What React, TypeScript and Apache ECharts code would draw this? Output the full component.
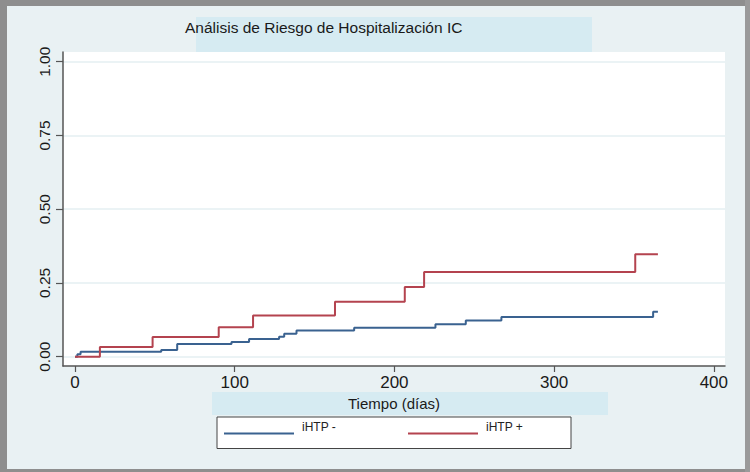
import React, { useEffect, useRef } from "react";
import * as echarts from "echarts";

const TITLE = "Análisis de Riesgo de Hospitalización IC";
const X_NAME = "Tiempo (días)";
const SERIES_NAMES = ["iHTP -", "iHTP +"];
const X_TICKS = [0, 100, 200, 300, 400];
const Y_TICKS = [0, 0.25, 0.5, 0.75, 1];

// Kaplan-Meier style cumulative incidence (time in days, value)
const negTimes = [0, 1.5, 3.5, 54, 64, 98, 109, 127.8, 131, 138.7, 174.8, 225.7, 244.7, 267, 362, 365];
const negValues = [0, 0.008, 0.017, 0.023, 0.043, 0.05, 0.06, 0.068, 0.078, 0.089, 0.098, 0.11, 0.123, 0.135, 0.152, 0.152];
const posTimes = [0, 15.6, 48.6, 90, 111.5, 162.8, 206.5, 218.6, 350.8, 365];
const posValues = [0, 0.033, 0.067, 0.1, 0.14, 0.186, 0.236, 0.287, 0.347, 0.347];

const BLUE = "#3a6290";
const RED = "#b4434f";
const FONT = "'Liberation Sans', Arial, Helvetica, sans-serif";

export default function App() {
  const ref = useRef<HTMLDivElement>(null);
  useEffect(() => {
    if (!ref.current) return;
    const chart = echarts.init(ref.current, undefined, { renderer: "svg" });
    const pair = (t: number[], v: number[]) => t.map((x, i) => [x, v[i]]);
    chart.setOption({
      animation: false,
      textStyle: { fontFamily: FONT },
      graphic: [
        { type: "rect", z: -10, shape: { x: 0, y: 0, width: 750, height: 472 }, style: { fill: "#8e8e8e" } },
        { type: "rect", z: -10, shape: { x: 745, y: 0, width: 5, height: 472 }, style: { fill: "#9a9a9a" } },
        { type: "rect", z: -9, shape: { x: 7, y: 6, width: 738, height: 463 }, style: { fill: "#e9f1f3" } },
        { type: "rect", z: -8, shape: { x: 196, y: 17, width: 396, height: 35 }, style: { fill: "#d6ebf2" } },
        { type: "rect", z: -8, shape: { x: 212, y: 392, width: 396, height: 23 }, style: { fill: "#d6ebf2" } },
      ],
      title: {
        text: TITLE,
        left: 185,
        top: 19,
        padding: 0,
        textStyle: { fontFamily: FONT, fontSize: 15.5, fontWeight: "normal", color: "#1a1a1a" },
      },
      legend: {
        left: 217,
        top: 417,
        orient: "horizontal",
        backgroundColor: "#ffffff",
        borderColor: "#444444",
        borderWidth: 1,
        borderRadius: 0,
        padding: [4, 48, 14, 7],
        itemWidth: 70,
        itemHeight: 2,
        itemGap: 72,
        icon: "rect",
        formatter: (name: string) => `{t|${name}}`,
        textStyle: {
          fontFamily: FONT,
          fontSize: 12,
          color: "#222",
          rich: { t: { fontFamily: FONT, fontSize: 12, color: "#222", padding: [0, 0, 13, 3] } },
        },
        data: SERIES_NAMES,
      },
      grid: {
        left: 63,
        right: 25,
        top: 52,
        bottom: 106,
        show: true,
        backgroundColor: "#ffffff",
        borderWidth: 0,
      },
      xAxis: {
        type: "value",
        min: -7.5,
        max: 407,
        name: X_NAME,
        nameLocation: "middle",
        nameGap: 24,
        nameTextStyle: { fontFamily: FONT, fontSize: 15, color: "#1a1a1a" },
        axisLine: { onZero: false, lineStyle: { color: "#555", width: 1.5 } },
        axisTick: { show: true, length: 6, customValues: X_TICKS, lineStyle: { color: "#555", width: 1.2 } },
        axisLabel: {
          customValues: X_TICKS,
          margin: 8,
          fontSize: 17,
          color: "#1a1a1a",
          fontFamily: FONT,
        },
        splitLine: { show: false },
      },
      yAxis: {
        type: "value",
        min: -0.0315,
        max: 1.033,
        axisLine: { show: true, onZero: false, lineStyle: { color: "#555", width: 1.5 } },
        axisTick: { show: true, length: 7, customValues: Y_TICKS, lineStyle: { color: "#555", width: 1.2 } },
        axisLabel: {
          customValues: Y_TICKS,
          rotate: 90,
          margin: 11,
          fontSize: 15.5,
          color: "#1a1a1a",
          fontFamily: FONT,
          formatter: (v: number) => v.toFixed(2),
        },
        splitLine: { show: true, lineStyle: { color: "#e4eff2", width: 1.5 } },
      },
      series: [
        {
          name: SERIES_NAMES[0],
          type: "line",
          step: "end",
          data: pair(negTimes, negValues),
          showSymbol: false,
          symbol: "none",
          color: BLUE,
          lineStyle: { color: BLUE, width: 2 },
          z: 3,
        },
        {
          name: SERIES_NAMES[1],
          type: "line",
          step: "end",
          data: pair(posTimes, posValues),
          showSymbol: false,
          symbol: "none",
          color: RED,
          lineStyle: { color: RED, width: 2 },
          z: 3,
        },
      ],
    });
    return () => chart.dispose();
  }, []);
  return (
    <div style={{ position: "absolute", left: 0, top: 0, width: 750, height: 472 }}>
      <div ref={ref} style={{ width: 750, height: 472 }} />
    </div>
  );
}
